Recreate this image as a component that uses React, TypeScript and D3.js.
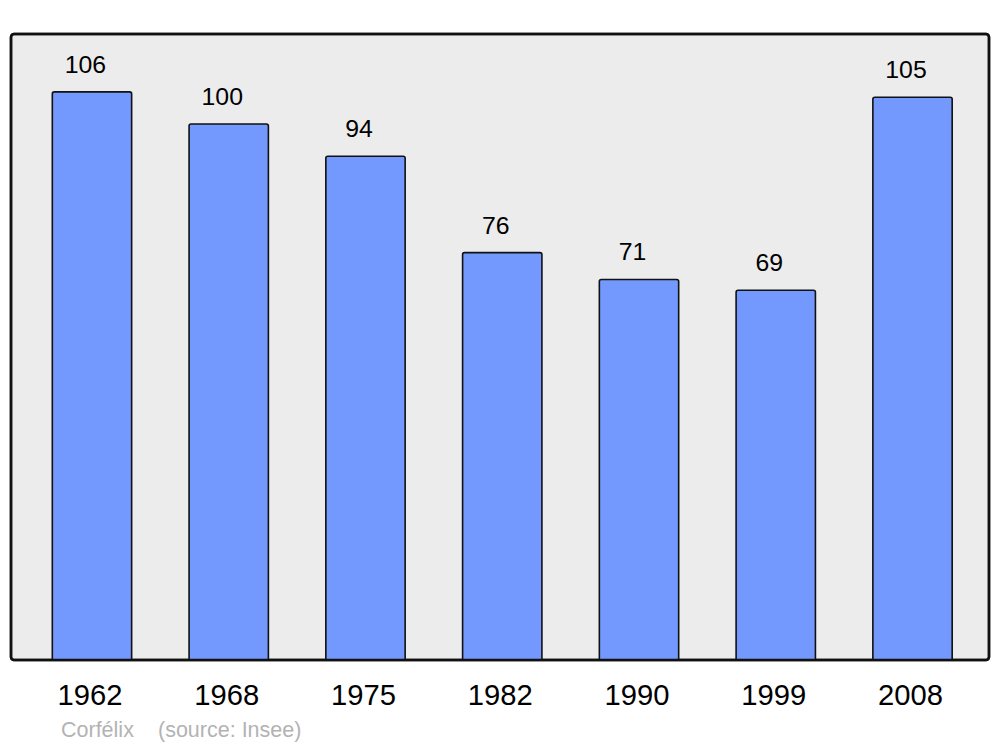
import React from "react";
import * as d3 from "d3";

const years = ["1962", "1968", "1975", "1982", "1990", "1999", "2008"];
const population = [106, 100, 94, 76, 71, 69, 105];
const credit = "Corfélix";
const source = "(source: Insee)";

const W = 1000;
const H = 747;
const frame = { left: 11, right: 989, top: 34, bottom: 660 };

export default function App() {
  const x = d3
    .scaleBand<string>()
    .domain(years)
    .range([23.6, 980.9])
    .paddingInner(0.42)
    .paddingOuter(0.21);
  const y = d3
    .scaleLinear()
    .domain([0, 116.8])
    .range([frame.bottom, frame.top]);

  return (
    <svg
      width={W}
      height={H}
      style={{ position: "absolute", left: 0, top: 0, fontFamily: "'Liberation Sans', Arial, sans-serif" }}
    >
      <rect x={0} y={0} width={W} height={H} fill="#ffffff" />
      <rect
        x={frame.left}
        y={frame.top}
        width={frame.right - frame.left}
        height={frame.bottom - frame.top}
        rx={3}
        fill="#ececec"
        stroke="#111111"
        strokeWidth={2.5}
      />
      {years.map((yr, i) => {
        const v = population[i];
        const bx = x(yr)!;
        const bw = x.bandwidth();
        const top = y(v);
        return (
          <g key={yr}>
            <path
              d={`M${bx},${frame.bottom} V${top + 2} Q${bx},${top} ${bx + 2},${top} H${bx + bw - 2} Q${bx + bw},${top} ${bx + bw},${top + 2} V${frame.bottom}`}
              fill="#7399ff"
              stroke="#111111"
              strokeWidth={1.6}
            />
            <text
              x={bx + bw / 2 - 6.5}
              y={top - 19}
              textAnchor="middle"
              fontSize={24.8}
              fill="#000"
            >
              {v}
            </text>
            <text
              x={bx + bw / 2 - 2}
              y={705}
              textAnchor="middle"
              fontSize={29.2}
              fill="#000"
            >
              {yr}
            </text>
          </g>
        );
      })}
      <rect
        x={frame.left}
        y={frame.top}
        width={frame.right - frame.left}
        height={frame.bottom - frame.top}
        rx={3}
        fill="none"
        stroke="#111111"
        strokeWidth={2.5}
      />
      <text x={61} y={737} fontSize={21.5} fill="#b3b3b3">
        {credit}
      </text>
      <text x={158} y={737} fontSize={21.5} fill="#b3b3b3">
        {source}
      </text>
    </svg>
  );
}
